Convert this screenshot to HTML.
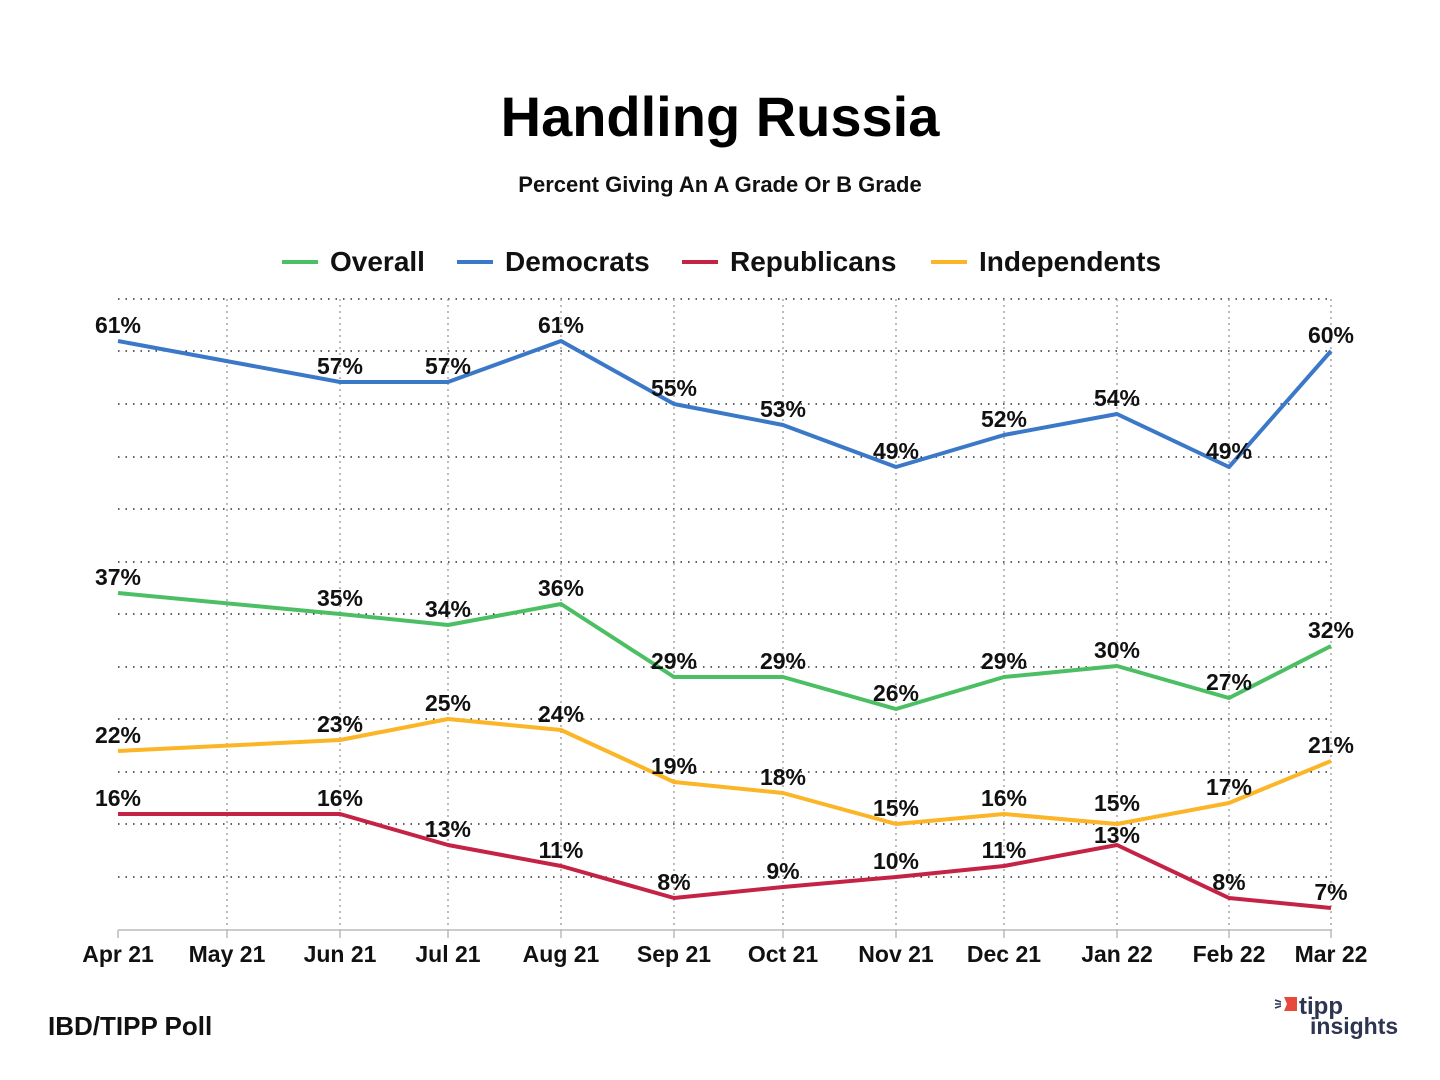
<!DOCTYPE html>
<html><head><meta charset="utf-8"><style>
body{margin:0;background:#fff;}
svg{display:block;font-family:"Liberation Sans","DejaVu Sans",sans-serif;}
</style></head><body>
<svg width="1440" height="1080" viewBox="0 0 1440 1080">
<text x="720" y="136" text-anchor="middle" font-size="56" font-weight="bold" fill="#000">Handling Russia</text>
<text x="720" y="192" text-anchor="middle" font-size="22" font-weight="bold" fill="#111">Percent Giving An A Grade Or B Grade</text>
<g font-size="28" font-weight="bold" fill="#111">
<line x1="282" y1="262" x2="318" y2="262" stroke="#4cbf64" stroke-width="4"/><text x="330" y="271">Overall</text>
<line x1="457" y1="262" x2="493" y2="262" stroke="#3b78c8" stroke-width="4"/><text x="505" y="271">Democrats</text>
<line x1="682" y1="262" x2="718" y2="262" stroke="#c42346" stroke-width="4"/><text x="730" y="271">Republicans</text>
<line x1="931" y1="262" x2="967" y2="262" stroke="#fbb526" stroke-width="4"/><text x="979" y="271">Independents</text>
</g>
<g stroke="#000" stroke-width="1.3" stroke-dasharray="1.5 6">
<line x1="118" y1="299" x2="1331" y2="299"/><line x1="118" y1="351" x2="1331" y2="351"/><line x1="118" y1="404" x2="1331" y2="404"/><line x1="118" y1="457" x2="1331" y2="457"/><line x1="118" y1="509" x2="1331" y2="509"/><line x1="118" y1="562" x2="1331" y2="562"/><line x1="118" y1="614" x2="1331" y2="614"/><line x1="118" y1="667" x2="1331" y2="667"/><line x1="118" y1="719" x2="1331" y2="719"/><line x1="118" y1="772" x2="1331" y2="772"/><line x1="118" y1="824" x2="1331" y2="824"/><line x1="118" y1="877" x2="1331" y2="877"/>
</g>
<g stroke="#999" stroke-width="1.3" stroke-dasharray="2 4">
<line x1="227" y1="299" x2="227" y2="930"/><line x1="340" y1="299" x2="340" y2="930"/><line x1="448" y1="299" x2="448" y2="930"/><line x1="561" y1="299" x2="561" y2="930"/><line x1="674" y1="299" x2="674" y2="930"/><line x1="783" y1="299" x2="783" y2="930"/><line x1="896" y1="299" x2="896" y2="930"/><line x1="1004" y1="299" x2="1004" y2="930"/><line x1="1117" y1="299" x2="1117" y2="930"/><line x1="1229" y1="299" x2="1229" y2="930"/><line x1="1331" y1="299" x2="1331" y2="930"/>
</g>
<line x1="118" y1="930" x2="1331" y2="930" stroke="#bbb" stroke-width="1.5"/>
<g stroke="#bbb" stroke-width="1.5"><line x1="118" y1="930" x2="118" y2="938"/><line x1="227" y1="930" x2="227" y2="938"/><line x1="340" y1="930" x2="340" y2="938"/><line x1="448" y1="930" x2="448" y2="938"/><line x1="561" y1="930" x2="561" y2="938"/><line x1="674" y1="930" x2="674" y2="938"/><line x1="783" y1="930" x2="783" y2="938"/><line x1="896" y1="930" x2="896" y2="938"/><line x1="1004" y1="930" x2="1004" y2="938"/><line x1="1117" y1="930" x2="1117" y2="938"/><line x1="1229" y1="930" x2="1229" y2="938"/><line x1="1331" y1="930" x2="1331" y2="938"/></g>
<g fill="none" stroke-width="4" stroke-linejoin="round">
<polyline stroke="#3b78c8" points="118,341 340,382 448,382 561,341 674,404 783,425 896,467 1004,435 1117,414 1229,467 1331,351"/>
<polyline stroke="#4cbf64" points="118,593 340,614 448,625 561,604 674,677 783,677 896,709 1004,677 1117,666 1229,698 1331,646"/>
<polyline stroke="#fbb526" points="118,751 340,740 448,719 561,730 674,782 783,793 896,824 1004,814 1117,824 1229,803 1331,761"/>
<polyline stroke="#c42346" points="118,814 340,814 448,845 561,866 674,898 783,887 896,877 1004,866 1117,845 1229,898 1331,908"/>
</g>
<g font-size="23" font-weight="bold" fill="#111" text-anchor="middle">
<text x="118" y="333">61%</text><text x="340" y="374">57%</text><text x="448" y="374">57%</text><text x="561" y="333">61%</text><text x="674" y="396">55%</text><text x="783" y="417">53%</text><text x="896" y="459">49%</text><text x="1004" y="427">52%</text><text x="1117" y="406">54%</text><text x="1229" y="459">49%</text><text x="1331" y="343">60%</text>
<text x="118" y="585">37%</text><text x="340" y="606">35%</text><text x="448" y="617">34%</text><text x="561" y="596">36%</text><text x="674" y="669">29%</text><text x="783" y="669">29%</text><text x="896" y="701">26%</text><text x="1004" y="669">29%</text><text x="1117" y="658">30%</text><text x="1229" y="690">27%</text><text x="1331" y="638">32%</text>
<text x="118" y="743">22%</text><text x="340" y="732">23%</text><text x="448" y="711">25%</text><text x="561" y="722">24%</text><text x="674" y="774">19%</text><text x="783" y="785">18%</text><text x="896" y="816">15%</text><text x="1004" y="806">16%</text><text x="1117" y="811">15%</text><text x="1229" y="795">17%</text><text x="1331" y="753">21%</text>
<text x="118" y="806">16%</text><text x="340" y="806">16%</text><text x="448" y="837">13%</text><text x="561" y="858">11%</text><text x="674" y="890">8%</text><text x="783" y="879">9%</text><text x="896" y="869">10%</text><text x="1004" y="858">11%</text><text x="1117" y="843">13%</text><text x="1229" y="890">8%</text><text x="1331" y="900">7%</text>
</g>
<g font-size="23" font-weight="bold" fill="#111" text-anchor="middle">
<text x="118" y="962">Apr 21</text><text x="227" y="962">May 21</text><text x="340" y="962">Jun 21</text><text x="448" y="962">Jul 21</text><text x="561" y="962">Aug 21</text><text x="674" y="962">Sep 21</text><text x="783" y="962">Oct 21</text><text x="896" y="962">Nov 21</text><text x="1004" y="962">Dec 21</text><text x="1117" y="962">Jan 22</text><text x="1229" y="962">Feb 22</text><text x="1331" y="962">Mar 22</text>
</g>
<text x="48" y="1035" font-size="26" font-weight="bold" fill="#111">IBD/TIPP Poll</text>
<polygon points="1284,997 1297,997 1297,1011 1284,1011 1287,1004" fill="#e8493d"/>
<g stroke="#2d3550" stroke-width="1.5"><line x1="1275" y1="1000" x2="1281" y2="1002"/><line x1="1275" y1="1004" x2="1281" y2="1004"/><line x1="1275" y1="1008" x2="1281" y2="1006"/></g>
<text x="1299" y="1014" font-size="24" font-weight="bold" fill="#2d3550">tipp</text>
<text x="1310" y="1034" font-size="23" font-weight="bold" fill="#2d3550">insights</text>
</svg>
</body></html>
